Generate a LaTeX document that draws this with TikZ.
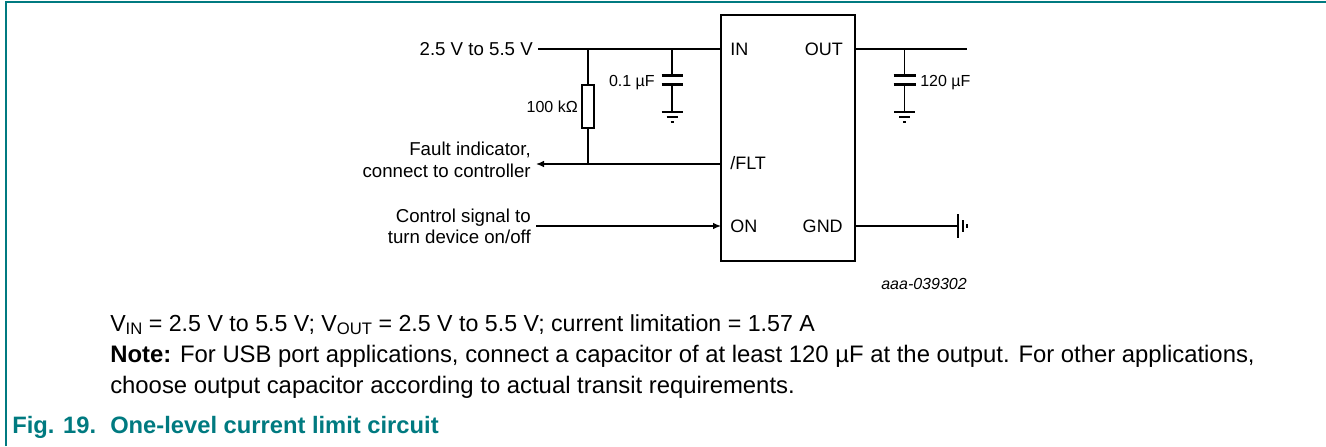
\documentclass[tikz,border=0pt]{standalone}
\usepackage{fontspec}
\setmainfont{Liberation Sans}
\usetikzlibrary{arrows.meta}
\definecolor{nxpteal}{RGB}{0,122,128}
\newcommand\subtxt[1]{\raisebox{-2pt}{\fontsize{12.5}{14}\selectfont #1}}
\begin{document}
\begin{tikzpicture}[x=0.75pt,y=-0.75pt,
  wire/.style={line width=1pt},
  plate/.style={line width=2.5pt},
  sig/.style={line width=1pt,-{Latex[length=6pt,width=5pt]}},
  lbl/.style={font=\fontsize{14}{16}\selectfont,inner sep=0},
  pinlbl/.style={font=\fontsize{13.5}{16}\selectfont,inner sep=0},
  small/.style={font=\fontsize{12}{14}\selectfont,inner sep=0},
  body/.style={font=\fontsize{17.9}{22}\selectfont,inner sep=0},
  figcap/.style={font=\fontsize{17.8}{21}\selectfont\bfseries,text=nxpteal,inner sep=0},
  gndv/.pic={\draw[line width=1pt] (-10.5,0)--(10.5,0);
             \draw[line width=1pt] (-5.5,5)--(5.5,5);
             \draw[line width=1.5pt] (-1.5,10)--(1.5,10);},
  gndh/.pic={\draw[line width=1pt] (0,-12)--(0,12);
             \draw[line width=1.5pt] (5,-6)--(5,6);
             \draw[line width=2pt] (9,-2)--(9,2);}
]
\useasboundingbox (0,0) rectangle (1326,446);
% frame
\draw[nxpteal,line width=1.5pt] (5.5,446) -- (5.5,2) -- (1326,2);

% IC
\node[draw,line width=1.9pt,minimum width=100.5pt,minimum height=184.5pt,inner sep=0] (ic) at (788,138) {};
\coordinate (in) at (721,49);
\coordinate (out) at (855,49);
\coordinate (flt) at (721,164);
\coordinate (on) at (721,226);
\coordinate (gnd) at (855,226);
\node[pinlbl,anchor=base west] (inl) at (730,55.5) {IN};
\node[pinlbl,anchor=base east] (outl) at (843,55.5) {OUT};
\node[pinlbl,anchor=base west] (fltl) at (730,169.5) {/FLT};
\node[pinlbl,anchor=base west] (onl) at (730,232.5) {ON};
\node[pinlbl,anchor=base east] (gndl) at (843,232.5) {GND};

% input
\node[lbl,anchor=base east] (vinl) at (533,55.7) {2.5 V to 5.5 V};
\coordinate (vin) at (538,49);
\draw[wire] (vin) -- (in);

% resistor
\coordinate (rtop) at (588,49);
\coordinate (rbot) at (588,164);
\node[draw,line width=1pt,minimum width=9pt,minimum height=32.25pt,inner sep=0] (r1) at (588,106.5) {};
\draw[wire] (rtop) -- (r1.north);
\draw[wire] (r1.south) -- (rbot);
\node[small,anchor=base east] (r1l) at (578,112.7) {100 kΩ};

% C1
\coordinate (c1top) at (672,49);
\coordinate (c1a) at (672,75.5);
\coordinate (c1b) at (672,84.5);
\coordinate (c1g) at (672,112);
\draw[wire] (c1top) -- (c1a);
\draw[plate] (661.5,75.5) -- (682.5,75.5);
\draw[plate] (661.5,84.5) -- (682.5,84.5);
\draw[wire] (c1b) -- (c1g);
\pic at (c1g) {gndv};
\node[small,anchor=base east] (c1l) at (655,86.7) {0.1 µF};

% output
\coordinate (vout) at (967,49);
\draw[wire] (out) -- (vout);
\coordinate (c2top) at (904.5,49);
\coordinate (c2a) at (904.5,75.5);
\coordinate (c2b) at (904.5,84.5);
\coordinate (c2g) at (904.5,112);
\draw[wire] (c2top) -- (c2a);
\draw[plate] (893.5,75.5) -- (915.5,75.5);
\draw[plate] (893.5,84.5) -- (915.5,84.5);
\draw[wire] (c2b) -- (c2g);
\pic at (c2g) {gndv};
\node[small,anchor=base west] (c2l) at (920,86.5) {120 µF};

% fault
\coordinate (fault) at (536,164);
\draw[sig] (flt) -- (fault);
\node[lbl,anchor=base east] (fl1) at (531,155.7) {Fault indicator,};
\node[lbl,anchor=base east] (fl2) at (531,177.4) {connect to controller};

% control
\coordinate (ctrl) at (536,226);
\draw[sig] (ctrl) -- (on);
\node[lbl,anchor=base east] (cl1) at (531,222.7) {Control signal to};
\node[lbl,anchor=base east] (cl2) at (531,243.4) {turn device on/off};

% gnd
\coordinate (gsym) at (958,226);
\draw[wire] (gnd) -- (gsym);
\pic at (gsym) {gndh};

\node[small,font=\fontsize{12}{14}\selectfont\itshape,anchor=base east] (code) at (967,289.7) {aaa-039302};

% text
\node[body,font=\fontsize{17.4}{22}\selectfont,anchor=base west] (t1) at (110,331.5) {V\subtxt{IN} = 2.5 V to 5.5 V; V\subtxt{OUT} = 2.5 V to 5.5 V; current limitation = 1.57 A};
\node[body,anchor=base west] (t2) at (110,362.5) {\textbf{Note:} For USB port applications, connect a capacitor of at least 120 µF at the output. For other applications,};
\node[body,anchor=base west] (t3) at (110,393.5) {choose output capacitor according to actual transit requirements.};
\node[figcap,anchor=base west] (f1) at (12,433) {Fig. 19.};
\node[figcap,anchor=base west] (f2) at (110,433) {One-level current limit circuit};
\end{tikzpicture}
\end{document}
